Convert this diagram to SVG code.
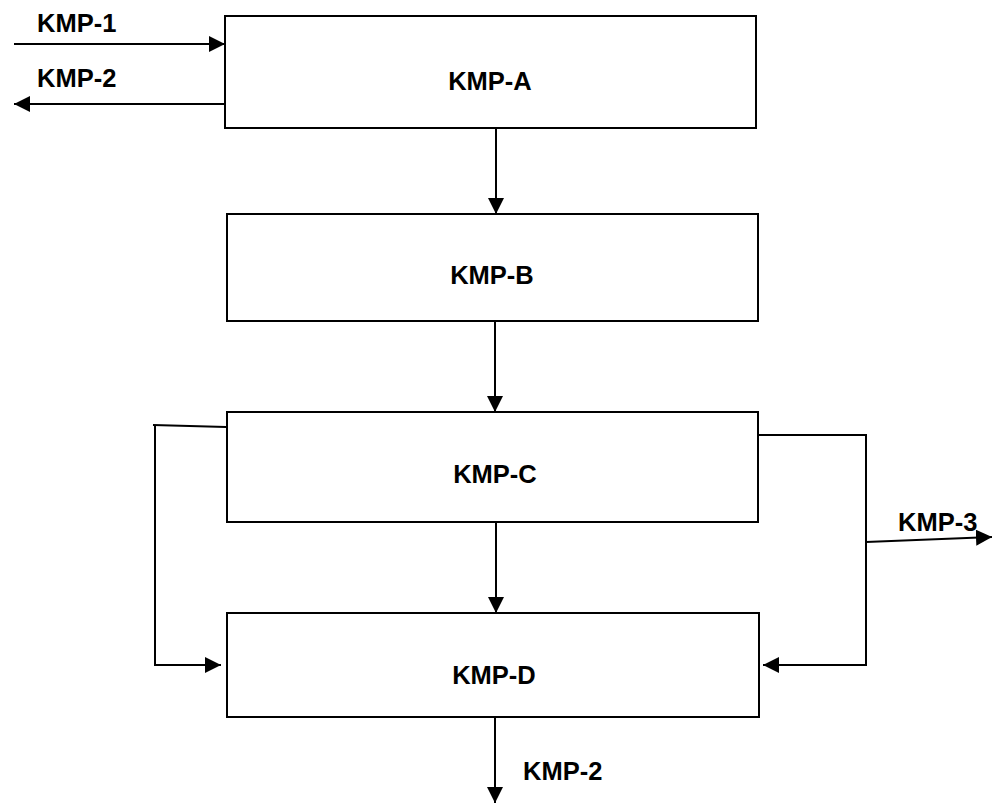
<svg xmlns="http://www.w3.org/2000/svg" width="992" height="805" viewBox="0 0 992 805">
<style>
.box{fill:#fff;stroke:#000;stroke-width:2}
.ln{fill:none;stroke:#000;stroke-width:2}
.t{font-family:"Liberation Sans",Arial,sans-serif;font-weight:bold;font-size:25.5px;fill:#000}
</style>
<defs>
<marker id="ah" viewBox="0 0 16 16" refX="16" refY="8" markerWidth="16" markerHeight="16" markerUnits="userSpaceOnUse" orient="auto">
<path d="M0,0 L16,8 L0,16 Z" fill="#000"/>
</marker>
</defs>
<rect width="992" height="805" fill="#fff"/>
<g id="nodeA"><rect class="box" x="225" y="16" width="531" height="112"/><text class="t" x="490" y="90" text-anchor="middle">KMP-A</text></g>
<g id="nodeB"><rect class="box" x="227" y="214" width="531" height="107"/><text class="t" x="492" y="284" text-anchor="middle">KMP-B</text></g>
<g id="nodeC"><rect class="box" x="227" y="412" width="531" height="110"/><text class="t" x="495" y="483" text-anchor="middle">KMP-C</text></g>
<g id="nodeD"><rect class="box" x="227" y="613" width="532" height="104"/><text class="t" x="494" y="684" text-anchor="middle">KMP-D</text></g>
<g id="connectors">
<line class="ln" x1="14" y1="44" x2="225" y2="44" marker-end="url(#ah)"/>
<line class="ln" x1="225" y1="104" x2="14" y2="104" marker-end="url(#ah)"/>
<line class="ln" x1="496" y1="128" x2="496" y2="214" marker-end="url(#ah)"/>
<line class="ln" x1="495" y1="321" x2="495" y2="412" marker-end="url(#ah)"/>
<line class="ln" x1="496" y1="522" x2="496" y2="613" marker-end="url(#ah)"/>
<line class="ln" x1="495" y1="717" x2="495" y2="803" marker-end="url(#ah)"/>
<polyline class="ln" points="226,427 153,425"/>
<polyline class="ln" points="155,425 155,665 221,665" marker-end="url(#ah)"/>
<polyline class="ln" points="758,435 866,435 866,665 763,665" marker-end="url(#ah)"/>
<line class="ln" x1="866" y1="542" x2="992" y2="537" marker-end="url(#ah)"/>
</g>
<text class="t" x="37" y="32">KMP-1</text>
<text class="t" x="37" y="87">KMP-2</text>
<text class="t" x="898" y="531">KMP-3</text>
<text class="t" x="523" y="780">KMP-2</text>
</svg>
